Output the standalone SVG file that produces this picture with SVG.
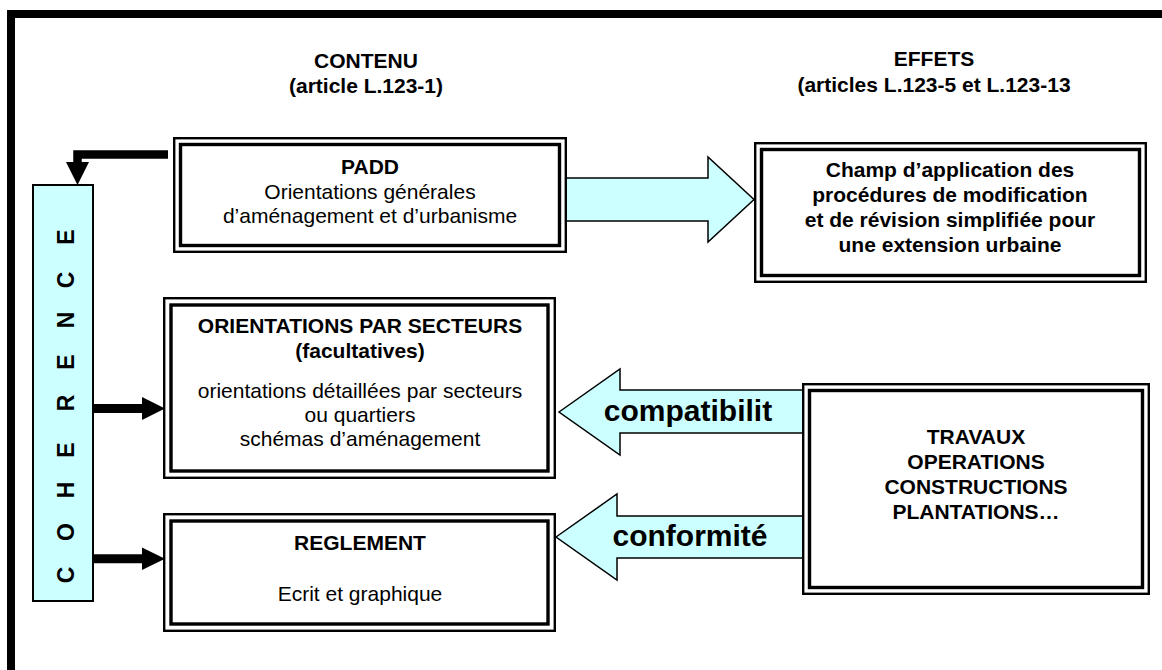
<svg xmlns="http://www.w3.org/2000/svg" width="1162" height="670" viewBox="0 0 1162 670">
<style>
.o{fill:#fff;stroke:#000;stroke-width:2.4}
.i{fill:none;stroke:#000;stroke-width:3.4}
.t{font-family:"Liberation Sans",Arial,sans-serif;font-size:21px;fill:#000;text-anchor:middle}
.b{font-weight:bold}
.big{fill:#ccffff;stroke:#000;stroke-width:1.5;stroke-linejoin:miter}
.lbl{font-family:"Liberation Sans",Arial,sans-serif;font-weight:bold;font-size:30px;fill:#000;text-anchor:middle}
</style>
<rect width="1162" height="670" fill="#fff"/>
<path d="M11,700 L11,14 L1175,14" fill="none" stroke="#000" stroke-width="8"/>

<g id="headers">
<text class="t b" x="366" y="68">CONTENU</text>
<text class="t b" x="366" y="93">(article L.123-1)</text>
<text class="t b" x="934" y="66">EFFETS</text>
<text class="t b" x="934" y="91.5">(articles L.123-5 et L.123-13</text>
</g>

<g id="connectors">
<path d="M168,154.5 L77.5,154.5 L77.5,163" fill="none" stroke="#000" stroke-width="8.5"/>
<path d="M66,162 L89,162 L77.5,185 Z" fill="#000"/>
<path d="M92,408.5 L143,408.5" stroke="#000" stroke-width="9"/>
<path d="M142,397 L165,408.5 L142,420 Z" fill="#000"/>
<path d="M92,558.7 L143,558.7" stroke="#000" stroke-width="9"/>
<path d="M142,547.5 L165,558.7 L142,570 Z" fill="#000"/>
<polygon class="big" points="564,178 708,178 708,157 754,199.5 708,242 708,221 564,221"/>
<polygon class="big" points="559,412 620,369 620,390 806,390 806,433 620,433 620,455"/>
<polygon class="big" points="556,537 617,494 617,516 806,516 806,558 617,558 617,580"/>
<text class="lbl" x="688" y="421">compatibilit</text>
<text class="lbl" x="690" y="546">conformité</text>
</g>

<g id="coherence">
<rect x="33" y="185" width="60" height="416" fill="#ccffff" stroke="#000" stroke-width="2"/>
<text class="t b" style="font-size:23px" transform="rotate(-90)" x="-575 -532 -490 -450 -403 -362 -320 -280 -237" y="74">COHERENCE</text>
</g>

<g id="padd">
<rect class="o" x="174.2" y="138.2" width="391.6" height="113.6"/>
<rect class="i" x="180.5" y="144.5" width="379" height="101"/>
<text class="t b" x="370" y="174">PADD</text>
<text class="t" x="370" y="199">Orientations générales</text>
<text class="t" x="370" y="223">d’aménagement et d’urbanisme</text>
</g>

<g id="effets">
<rect class="o" x="755.2" y="143.2" width="390.6" height="138.6"/>
<rect class="i" x="761.5" y="149.5" width="378" height="126"/>
<text class="t b" x="950" y="177">Champ d’application des</text>
<text class="t b" x="950" y="202">procédures de modification</text>
<text class="t b" x="950" y="227">et de révision simplifiée pour</text>
<text class="t b" x="950" y="251.5">une extension urbaine</text>
</g>

<g id="orientations">
<rect class="o" x="164.2" y="298.2" width="390.6" height="179.6"/>
<rect class="i" x="171" y="305" width="377" height="166"/>
<text class="t b" x="360" y="333">ORIENTATIONS PAR SECTEURS</text>
<text class="t b" x="360" y="358">(facultatives)</text>
<text class="t" x="360" y="398">orientations détaillées par secteurs</text>
<text class="t" x="360" y="422">ou quartiers</text>
<text class="t" x="360" y="446">schémas d’aménagement</text>
</g>

<g id="reglement">
<rect class="o" x="164.2" y="514.2" width="390.6" height="116.6"/>
<rect class="i" x="171" y="521" width="377" height="103"/>
<text class="t b" x="360" y="550">REGLEMENT</text>
<text class="t" x="360" y="600.5">Ecrit et graphique</text>
</g>

<g id="travaux">
<rect class="o" x="803.2" y="384.2" width="345.6" height="209.6"/>
<rect class="i" x="809.5" y="390.5" width="333" height="197"/>
<text class="t b" x="976" y="444">TRAVAUX</text>
<text class="t b" x="976" y="469">OPERATIONS</text>
<text class="t b" x="976" y="494">CONSTRUCTIONS</text>
<text class="t b" x="976" y="519">PLANTATIONS…</text>
</g>
</svg>
